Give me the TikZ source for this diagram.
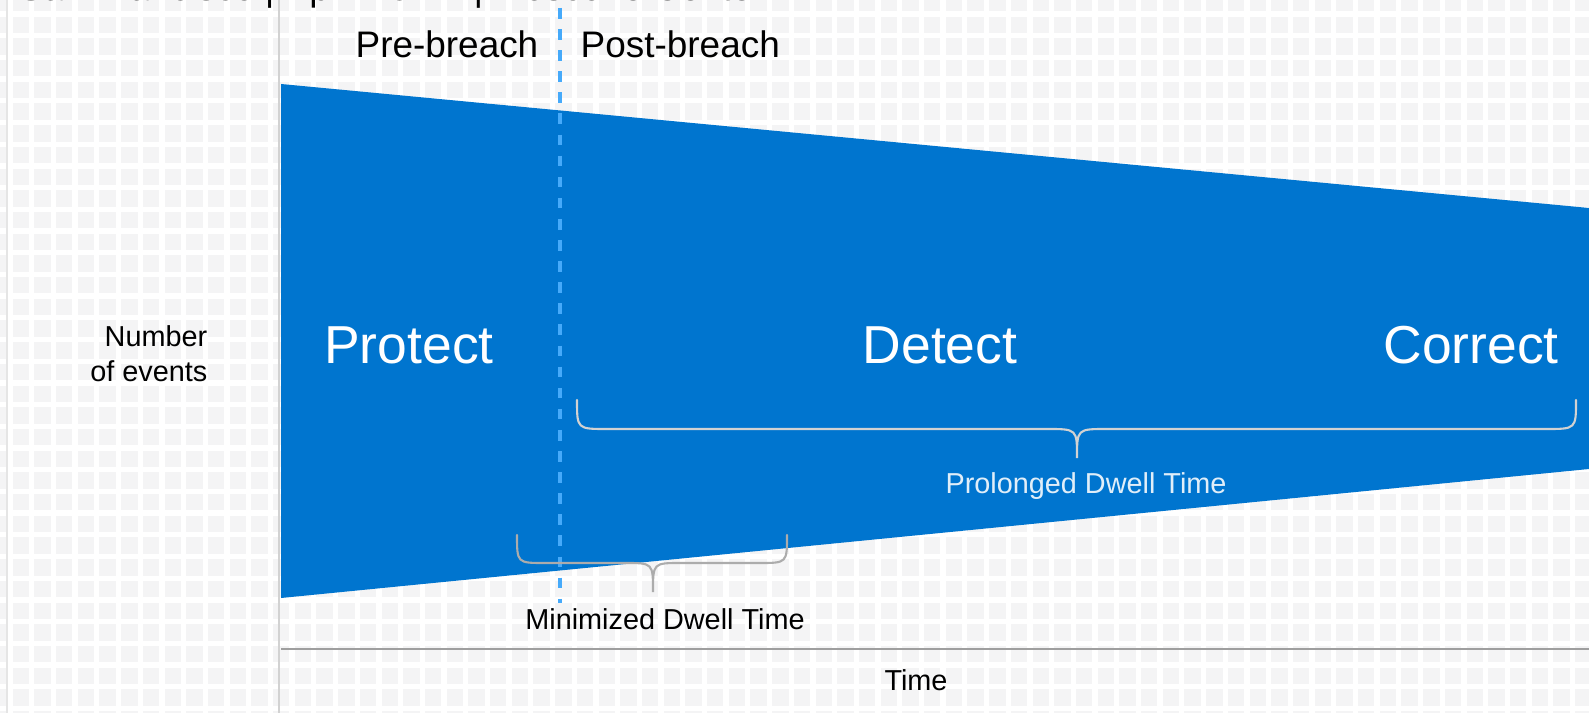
\documentclass[tikz,border=0pt]{standalone}
\usepackage{fontspec}
\setmainfont{Liberation Sans}
\definecolor{evblue}{RGB}{0,117,207}
\definecolor{breachline}{RGB}{70,170,250}
\definecolor{gridbg}{RGB}{244,244,245}

\begin{document}
\begin{tikzpicture}[x=0.01cm,y=-0.01cm,
  lbl/.style={inner sep=0pt,font=\fontsize{10.5}{12.6}\selectfont},
  big/.style={inner sep=0pt,text=white,font=\fontsize{15.2}{18}\selectfont},
  small/.style={inner sep=0pt,font=\fontsize{8.2}{10.1}\selectfont},
  brace/.style={line width=0.6pt,line cap=round}]
  \useasboundingbox (0,0) rectangle (1589,713);
  \clip (0,0) rectangle (1589,713);
  % background grid
  \fill[gridbg] (0,0) rectangle (1589,713);
  \foreach \i in {0,...,73} \draw[white,line width=1.5pt] (10+21.7*\i,0) -- (10+21.7*\i,713);
  \foreach \j in {0,...,32} \draw[white,line width=1.5pt] (0,14+21.7*\j) -- (1589,14+21.7*\j);
  \draw[gray!20,line width=0.6pt] (7,0) -- (7,713);
  \draw[gray!35,line width=0.6pt] (279,0) -- (279,713);
  \node[lbl,anchor=base west] (venue) at (18,1) {San Francisco | April 20-24 | Moscone Center};
  % events funnel
  \fill[evblue] (281,84) -- (1589,208) -- (1589,469) -- (281,598) -- cycle;
  \draw[gray!75,line width=0.8pt] (281,649) -- (1589,649);
  \draw[breachline,line width=0.9pt,dash pattern=on 3 off 3] (560,8) -- (560,603);
  \path (539,58) node[lbl,anchor=base east] (pre) {Pre-breach}
  (580,58) node[lbl,anchor=base west] (post) {Post-breach}
  (409,364) node[big,anchor=base] (protect) {Protect}
  (940,364) node[big,anchor=base] (detect) {Detect}
  (1471,364) node[big,anchor=base] (correct) {Correct}
  (208,382) node[small,anchor=base east,align=right] (events) {Number\\of events}
  (1086,494) node[small,anchor=base,text=white!88!evblue] (prolonged) {Prolonged Dwell Time}
  (665,629) node[small,anchor=base] (minimized) {Minimized Dwell Time}
  (916,690) node[small,anchor=base] (time) {Time};
  % braces
  \draw[brace,gray!35] (577,400) .. controls (577,429) .. (607,429) -- (1047,429)
    .. controls (1077,429) .. (1077,458) .. controls (1077,429) .. (1107,429) -- (1546,429)
    .. controls (1576,429) .. (1576,400);
  \draw[brace,gray!65] (517,535) .. controls (517,563) .. (545,563) -- (625,563)
    .. controls (653,563) .. (653,592) .. controls (653,563) .. (681,563) -- (759,563)
    .. controls (787,563) .. (787,535);
\end{tikzpicture}
\end{document}
